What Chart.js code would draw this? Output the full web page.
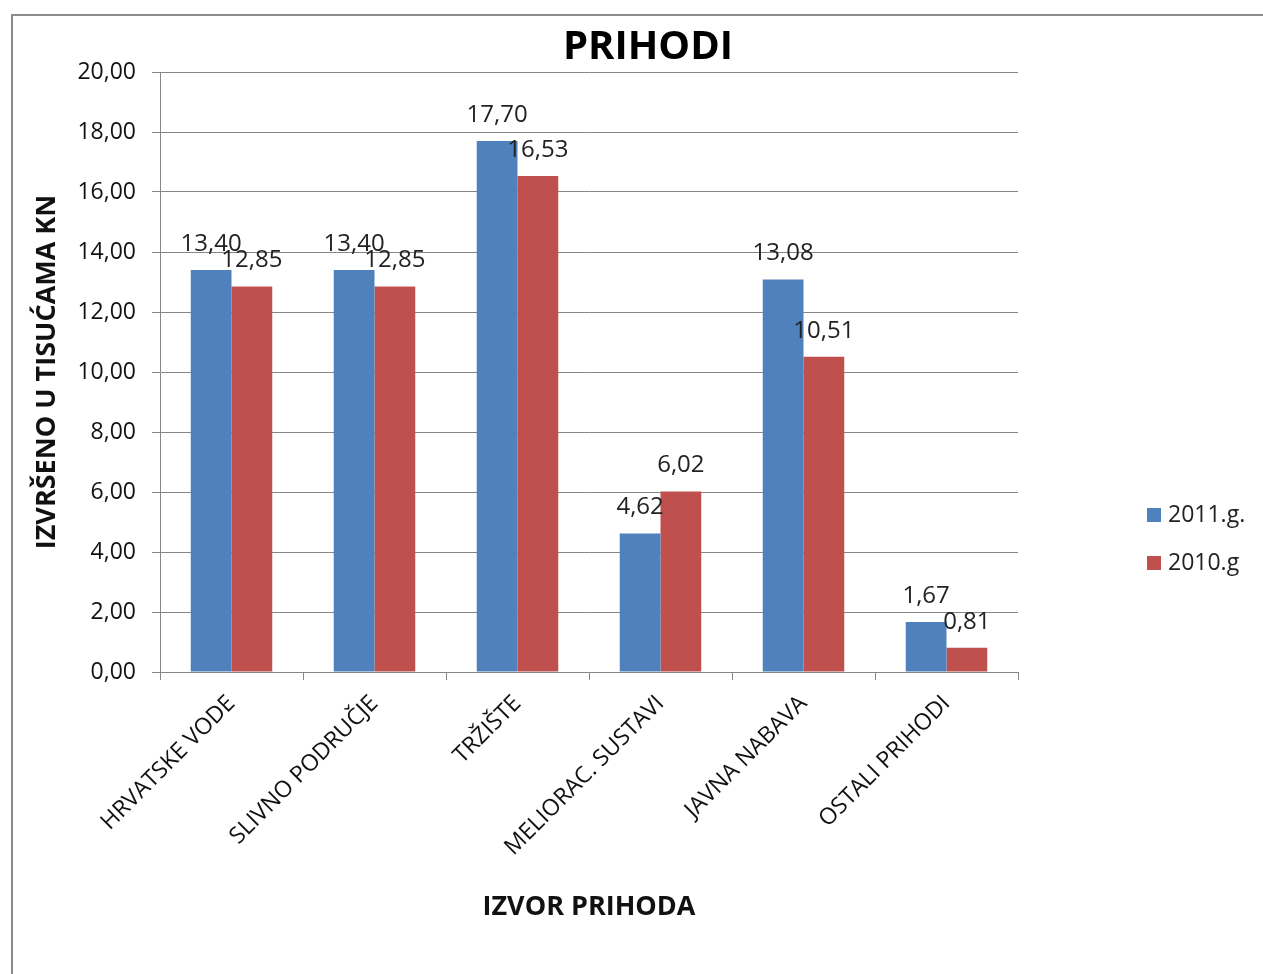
<!DOCTYPE html>
<html>
<head>
<meta charset="utf-8">
<script src="https://cdn.jsdelivr.net/npm/chart.js@4.4.1/dist/chart.umd.min.js"></script>
<style>
  html, body { margin: 0; padding: 0; background: #fff; overflow: hidden; }
  #wrap { position: relative; width: 1263px; height: 974px; }
  #frame { position: absolute; left: 11px; top: 14px; width: 1300px; height: 1000px;
           border: 2px solid #8c8c8c; box-sizing: border-box; }
  canvas { position: absolute; left: 0; top: 0; }
</style>
</head>
<body>
<div id="wrap">
  <div id="frame"></div>
  <canvas id="prihodiChart" width="1263" height="974"></canvas>
</div>
<script>
const categories = ["HRVATSKE VODE", "SLIVNO PODRUČJE", "TRŽIŠTE", "MELIORAC. SUSTAVI", "JAVNA NABAVA", "OSTALI PRIHODI"];
const values2011 = [13.40, 13.40, 17.70, 4.62, 13.08, 1.67];
const values2010 = [12.85, 12.85, 16.53, 6.02, 10.51, 0.81];
const seriesNames = ["2011.g.", "2010.g"];
const yMin = 0, yMax = 20, yStep = 2;

const FONT = "'Open Sans', 'Noto Sans', sans-serif";
const fmt = v => v.toFixed(2).replace(".", ",");

// value labels above every bar
const valueLabels = {
  id: "valueLabels",
  afterDatasetsDraw(chart) {
    const ctx = chart.ctx;
    ctx.save();
    ctx.font = "24px " + FONT;
    ctx.fillStyle = "#222";
    ctx.textAlign = "center";
    ctx.textBaseline = "middle";
    chart.data.datasets.forEach((ds, i) => {
      chart.getDatasetMeta(i).data.forEach((bar, j) => {
        ctx.fillText(fmt(ds.data[j]), bar.x, bar.y - 26);
      });
    });
    ctx.restore();
  }
};

// title + legend drawn where the original had them
const titleAndLegend = {
  id: "titleAndLegend",
  afterDraw(chart) {
    const ctx = chart.ctx;
    ctx.save();
    ctx.fillStyle = "#000";
    ctx.font = "bold 40px " + FONT;
    ctx.textAlign = "center";
    ctx.textBaseline = "middle";
    ctx.fillText("PRIHODI", 648, 48);

    ctx.font = "23px " + FONT;
    ctx.textAlign = "left";
    chart.data.datasets.forEach((ds, i) => {
      const y = 515 + i * 48;
      ctx.fillStyle = ds.backgroundColor;
      ctx.fillRect(1147, y - 7, 14, 14);
      ctx.fillStyle = "#222";
      ctx.fillText(ds.label, 1168, y);
    });
    ctx.restore();
  }
};

const ctx = document.getElementById("prihodiChart").getContext("2d");
new Chart(ctx, {
  type: "bar",
  data: {
    labels: categories,
    datasets: [
      { label: seriesNames[0], data: values2011, backgroundColor: "#4F81BD" },
      { label: seriesNames[1], data: values2010, backgroundColor: "#C0504D" }
    ]
  },
  options: {
    responsive: false,
    animation: false,
    layout: { padding: { left: 20, right: 245, top: 72, bottom: 32 } },
    datasets: { bar: { categoryPercentage: 0.57, barPercentage: 1.0 } },
    plugins: {
      legend: { display: false },
      title: { display: false },
      tooltip: { enabled: false }
    },
    scales: {
      x: {
        afterFit: s => { s.height = 270; },
        grid: { display: true, drawOnChartArea: false, offset: true, tickLength: 8, color: "#868686" },
        border: { color: "#868686", width: 1 },
        ticks: {
          color: "#111", minRotation: 45, maxRotation: 45, autoSkip: false, padding: 10,
          font: { family: FONT, size: 23 }
        },
        title: {
          display: true, text: "IZVOR PRIHODA", color: "#111",
          font: { family: FONT, size: 27, weight: "bold" },
          padding: { top: 0, bottom: 18 }
        }
      },
      y: {
        min: yMin, max: yMax,
        afterFit: s => { s.width = 140; },
        grid: { color: "#868686", tickLength: 8 },
        border: { color: "#868686", width: 1 },
        ticks: {
          stepSize: yStep, padding: 16, color: "#111",
          font: { family: FONT, size: 23 },
          callback: v => fmt(v)
        },
        title: {
          display: true, text: "IZVRŠENO U TISUĆAMA KN", color: "#111",
          font: { family: FONT, size: 27, weight: "bold" },
          padding: { top: 11, bottom: 0 }
        }
      }
    }
  },
  plugins: [valueLabels, titleAndLegend]
});
</script>
</body>
</html>
